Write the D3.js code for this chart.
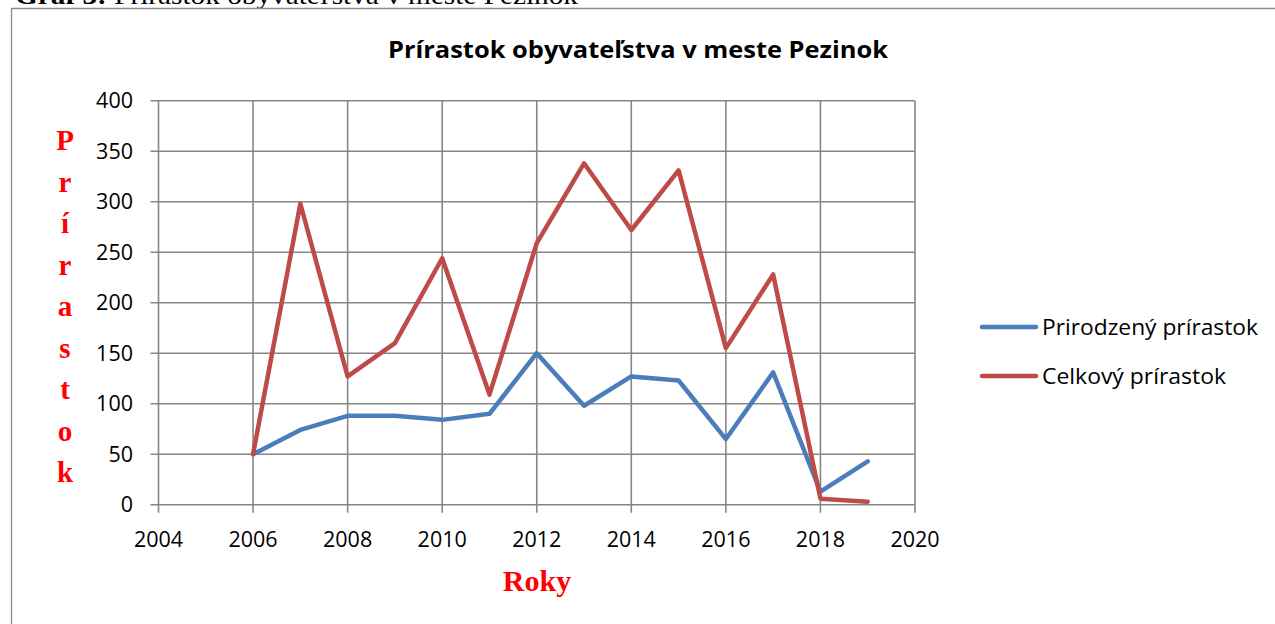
<!DOCTYPE html>
<html><head><meta charset="utf-8">
<script src="https://cdn.jsdelivr.net/npm/d3@7"></script>
<style>html,body{margin:0;padding:0;background:#fff;}svg{display:block;}</style>
</head><body>
<svg id="chart" width="1275" height="624"></svg>
<script>
const caption = "Graf 3:";
const captionRest = " Prírastok obyvateľstva v meste Pezinok";
const title = "Prírastok obyvateľstva v meste Pezinok";
const yLabel = "Prírastok";
const xLabel = "Roky";
const years = [2006,2007,2008,2009,2010,2011,2012,2013,2014,2015,2016,2017,2018,2019];
const natural = [50,74,88,88,84,90,150,98,127,123,65,131,13,43];
const total = [50,298,127,160,244,109,259,338,272,331,155,228,6,3];
const seriesNames = ["Prirodzený prírastok","Celkový prírastok"];
const seriesColors = ["#4A7EBB","#BE4B48"];
const xTicks = [2004,2006,2008,2010,2012,2014,2016,2018,2020];
const yTicks = [0,50,100,150,200,250,300,350,400];

const svg = d3.select("#chart");
const grid = "#868686";
const x = d3.scaleLinear().domain([2004,2020]).range([158.5,915]);
const y = d3.scaleLinear().domain([0,400]).range([504.7,100.7]);

// caption (cut off at top, as in the source)
const cap = svg.append("text").attr("x",15).attr("y",4)
  .attr("font-family","'Liberation Serif', serif").attr("font-size",26).attr("fill","#000")
  .attr("textLength",563).attr("lengthAdjust","spacingAndGlyphs");
cap.append("tspan").attr("font-weight","bold").text(caption);
cap.append("tspan").text(captionRest);

// border
svg.append("path").attr("d","M11.5,624 V8.5 H1275").attr("fill","none").attr("stroke","#8a8a8a").attr("stroke-width",1.3);

// title
svg.append("text").attr("x",638).attr("y",58).attr("text-anchor","middle")
  .attr("font-family","'Open Sans', sans-serif").attr("font-weight","bold").attr("font-size",23)
  .attr("textLength",500).attr("lengthAdjust","spacingAndGlyphs").text(title);

// grid lines
svg.append("g").selectAll("line").data(yTicks).join("line")
  .attr("x1",x(2004)-8).attr("x2",x(2020)).attr("y1",d=>y(d)).attr("y2",d=>y(d))
  .attr("stroke",grid).attr("stroke-width",1.6);
svg.append("g").selectAll("line").data(xTicks).join("line")
  .attr("x1",d=>x(d)).attr("x2",d=>x(d)).attr("y1",y(400)).attr("y2",y(0)+8)
  .attr("stroke",grid).attr("stroke-width",1.6);

// y tick labels
svg.append("g").selectAll("text").data(yTicks).join("text")
  .attr("x",133).attr("y",d=>y(d)+7.5).attr("text-anchor","end")
  .attr("font-family","'Open Sans', sans-serif").attr("font-size",21.5).attr("fill","#000")
  .text(d=>d);
// x tick labels
svg.append("g").selectAll("text").data(xTicks).join("text")
  .attr("x",d=>x(d)).attr("y",547).attr("text-anchor","middle")
  .attr("font-family","'Open Sans', sans-serif").attr("font-size",21.5).attr("fill","#000")
  .text(d=>d);

// lines
const line = d3.line().x(d=>x(d[0])).y(d=>y(d[1]));
[natural,total].forEach((vals,i)=>{
  svg.append("path").datum(years.map((yr,j)=>[yr,vals[j]]))
    .attr("d",line).attr("fill","none").attr("stroke",seriesColors[i])
    .attr("stroke-width",4.5).attr("stroke-linejoin","round").attr("stroke-linecap","round");
});

// y axis label (stacked letters)
svg.append("g").selectAll("text").data(Array.from(yLabel)).join("text")
  .attr("x",65).attr("y",(d,i)=>150+i*41.5).attr("text-anchor","middle")
  .attr("font-family","'Liberation Serif', serif").attr("font-weight","bold").attr("font-size",29)
  .attr("fill","#FF0000").text(d=>d);

// x axis label
svg.append("text").attr("x",537).attr("y",591).attr("text-anchor","middle")
  .attr("font-family","'Liberation Serif', serif").attr("font-weight","bold").attr("font-size",30)
  .attr("fill","#FF0000").text(xLabel);

// legend
const legY = [327,376];
const legW = [216,184];
seriesNames.forEach((n,i)=>{
  svg.append("line").attr("x1",982).attr("x2",1036).attr("y1",legY[i]).attr("y2",legY[i])
    .attr("stroke",seriesColors[i]).attr("stroke-width",4.5).attr("stroke-linecap","round");
  svg.append("text").attr("x",1042).attr("y",legY[i]+8)
    .attr("font-family","'Open Sans', sans-serif").attr("font-size",22).attr("fill","#000")
    .attr("textLength",legW[i]).attr("lengthAdjust","spacingAndGlyphs").text(n);
});
</script>
</body></html>
